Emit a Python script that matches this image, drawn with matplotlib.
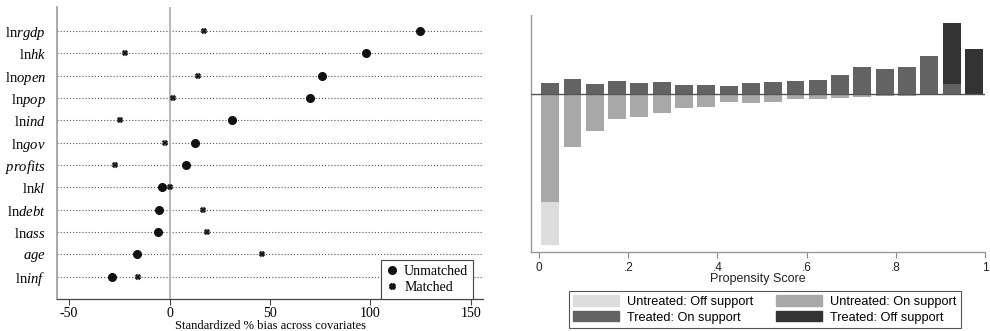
import matplotlib
matplotlib.use("Agg")
import matplotlib.pyplot as plt
from matplotlib.lines import Line2D
from matplotlib.patches import Patch

# left panel: standardized % bias, unmatched vs matched
covariates = [r"$\mathrm{ln}\mathit{rgdp}$", r"$\mathrm{ln}\mathit{hk}$", r"$\mathrm{ln}\mathit{open}$",
              r"$\mathrm{ln}\mathit{pop}$", r"$\mathrm{ln}\mathit{ind}$", r"$\mathrm{ln}\mathit{gov}$",
              r"$\mathit{profits}$", r"$\mathrm{ln}\mathit{kl}$", r"$\mathrm{ln}\mathit{debt}$",
              r"$\mathrm{ln}\mathit{ass}$", r"$\mathit{age}$", r"$\mathrm{ln}\mathit{inf}$"]
unmatched = [124.4, 98.0, 75.8, 69.7, 31.0, 12.8, 8.3, -3.8, -5.3, -5.8, -16.4, -28.5]
matched = [16.9, -22.0, 14.4, 1.5, -24.7, -2.3, -27.2, 0.2, 16.4, 18.6, 46.1, -15.8]
bias_ticks = [-50, 0, 50, 100, 150]

# right panel: propensity score histogram (treated up, untreated down)
bin_centers = [0.025, 0.075, 0.125, 0.175, 0.225, 0.275, 0.325, 0.375, 0.425, 0.475,
               0.525, 0.575, 0.625, 0.675, 0.725, 0.775, 0.825, 0.875, 0.925, 0.975]
treated_on = [11.0, 14.4, 9.4, 12.4, 11.0, 11.7, 8.4, 8.7, 7.4, 10.4,
              12.0, 13.0, 13.7, 18.7, 26.4, 24.4, 26.4, 37.7, 9.7, 0.0]
treated_off = [0, 0, 0, 0, 0, 0, 0, 0, 0, 0,
               0, 0, 0, 0, 0, 0, 0, 0, 61.3, 44.4]
untreated_on = [108.6, 53.6, 37.0, 25.0, 23.6, 19.0, 14.3, 13.0, 8.3, 9.6,
                8.6, 5.6, 5.3, 4.6, 3.0, 2.0, 2.0, 1.6, 1.0, 0.0]
untreated_off = [42.7, 0, 0, 0, 0, 0, 0, 0, 0, 0,
                 0, 0, 0, 0, 0, 0, 0, 0, 0, 0]
ps_ticks = [0, 0.2, 0.4, 0.6, 0.8, 1.0]
ps_ticklabels = ["0", ".2", ".4", ".6", ".8", "1"]

plt.rcParams['mathtext.fontset'] = 'custom'
plt.rcParams['mathtext.rm'] = 'Liberation Serif'
plt.rcParams['mathtext.it'] = 'Liberation Serif:italic'

fig = plt.figure(figsize=(9.9, 3.31), dpi=100)

# ---------- left ----------
ax1 = fig.add_axes([0.0576, 0.0967, 0.4303, 0.8822])
n = len(covariates)
ypos = list(range(n, 0, -1))
for y in ypos:
    ax1.axhline(y, color='#555555', lw=0.8, ls=(0, (1, 1.8)), zorder=1)
ax1.axvline(0, color='#aaaaaa', lw=1.2, zorder=1)
ax1.plot(unmatched, ypos, 'o', color='#111111', ms=5.5, ls='none', zorder=3)
ax1.plot(matched, ypos, 'X', color='#111111', ms=4.2, mew=0.3, ls='none', zorder=3)

ax1.set_xlim(-56, 156)
ax1.set_ylim(-0.0, n + 1.07)
ax1.set_yticks(ypos)
ax1.set_yticklabels(covariates, fontsize=10.5)
ax1.set_xticks(bias_ticks)
ax1.set_xticklabels([str(t) for t in bias_ticks], fontfamily='Liberation Serif', fontsize=10)
ax1.tick_params(axis='y', length=0, pad=8)
ax1.tick_params(axis='x', length=4, width=0.8, color='#444444', pad=2)
for s in ['top', 'right']:
    ax1.spines[s].set_visible(False)
ax1.spines['left'].set_color('#999999')
ax1.spines['left'].set_linewidth(1.2)
ax1.spines['bottom'].set_color('#444444')
ax1.spines['bottom'].set_linewidth(0.9)
ax1.set_xlabel('Standardized % bias across covariates', fontfamily='Liberation Serif',
               fontsize=9, labelpad=0)

h1 = [Line2D([], [], marker='o', color='#111111', ms=5.5, ls='none'),
      Line2D([], [], marker='X', color='#111111', ms=4.2, ls='none')]
leg1 = ax1.legend(h1, ['Unmatched', 'Matched'], loc='lower right',
                  bbox_to_anchor=(0.977, 0.0), borderaxespad=0,
                  prop={'family': 'Liberation Serif', 'size': 10},
                  fancybox=False, framealpha=1, edgecolor='#444444',
                  handlelength=0.8, handletextpad=0.5, labelspacing=0.2,
                  borderpad=0.35)
leg1.get_frame().set_linewidth(0.8)

# ---------- right ----------
ax2 = fig.add_axes([0.5364, 0.2387, 0.4586, 0.716])
w = 0.04
ax2.bar(bin_centers, treated_on, width=w, color='#636363', zorder=2)
ax2.bar(bin_centers, treated_off, width=w, bottom=treated_on, color='#333333', zorder=2)
ax2.bar(bin_centers, [-v for v in untreated_on], width=w, color='#a8a8a8', zorder=2)
ax2.bar(bin_centers, [-v for v in untreated_off], width=w,
        bottom=[-v for v in untreated_on], color='#dddddd', zorder=2)
ax2.axhline(0, color='#555555', lw=1.0, zorder=3)

ax2.set_xlim(-0.018, 1.0)
ax2.set_ylim(-158.3, 78.7)
ax2.set_yticks([])
ax2.set_xticks(ps_ticks)
ax2.set_xticklabels(ps_ticklabels, fontfamily='Liberation Sans', fontsize=8.5, color='#222222')
ax2.tick_params(axis='x', length=4, width=0.8, color='#888888', pad=3.5)
for s in ['top', 'right']:
    ax2.spines[s].set_visible(False)
for s in ['left', 'bottom']:
    ax2.spines[s].set_color('#999999')
    ax2.spines[s].set_linewidth(1.0)
ax2.set_xlabel('Propensity Score', fontfamily='Liberation Sans', fontsize=9,
               color='#222222', labelpad=-1)

h2 = [Patch(color='#dddddd'), Patch(color='#636363'),
      Patch(color='#a8a8a8'), Patch(color='#333333')]
l2 = ['Untreated: Off support', 'Treated: On support',
      'Untreated: On support', 'Treated: Off support']
leg2 = fig.legend(h2, l2, ncol=2, loc='upper center', bbox_to_anchor=(764.7 / 990, 0.1208),
                  prop={'family': 'Liberation Sans', 'size': 9.2},
                  fancybox=False, framealpha=1, edgecolor='#555555',
                  handlelength=3.6, handleheight=0.85, handletextpad=0.6,
                  columnspacing=1.8, labelspacing=0.25, borderpad=0.35,
                  borderaxespad=0)
leg2.get_frame().set_linewidth(0.8)

fig.savefig('out.png', dpi=100)
